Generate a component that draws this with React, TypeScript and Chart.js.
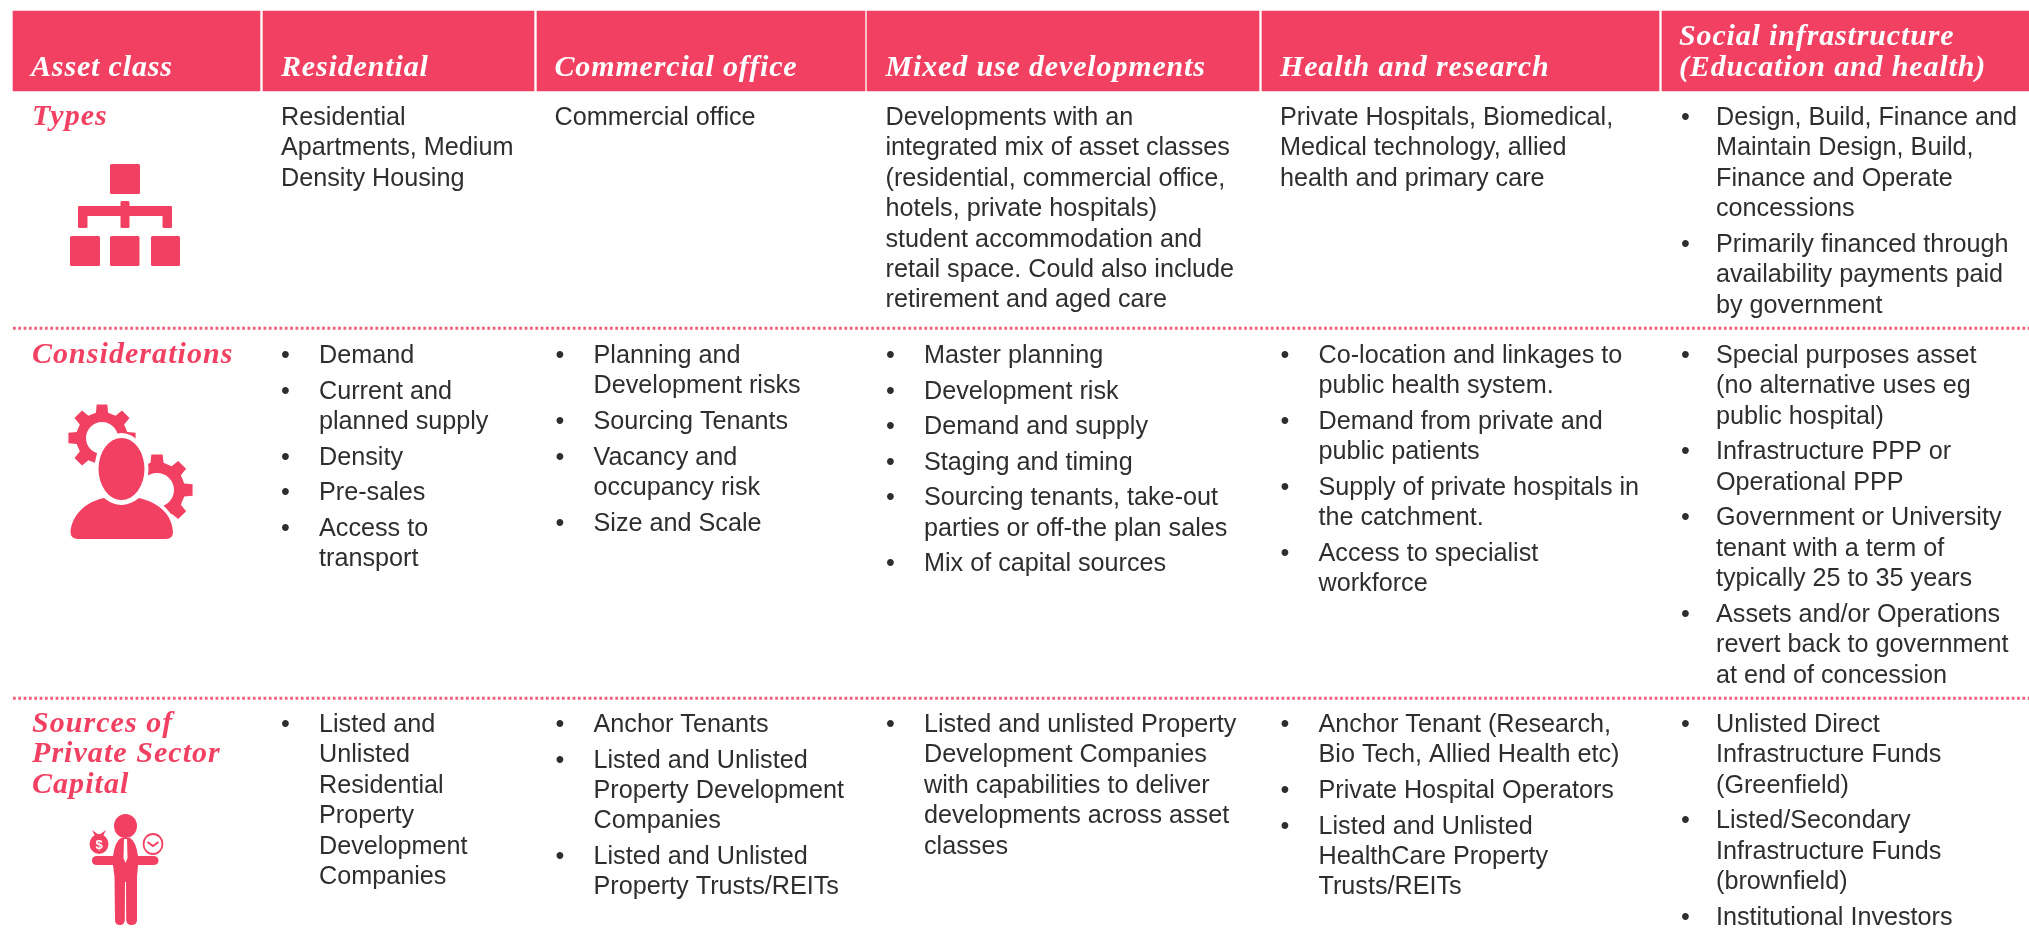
import React, { useEffect, useRef } from "react";
import { Chart, registerables } from "chart.js";

Chart.register(...registerables);

const headers: string[][] = [
  ["Asset class"],
  ["Residential"],
  ["Commercial office"],
  ["Mixed use developments"],
  ["Health and research"],
  ["Social infrastructure", "(Education and health)"],
];
const rowLabels: string[][] = [["Types"], ["Considerations"], ["Sources of", "Private Sector", "Capital"]];

const typesRow: string[][][] = [
  [["Residential", "Apartments, Medium", "Density Housing"]],
  [["Commercial office"]],
  [["Developments with an", "integrated mix of asset classes", "(residential, commercial office,", "hotels, private hospitals)", "student accommodation and", "retail space. Could also include", "retirement and aged care"]],
  [["Private Hospitals, Biomedical,", "Medical technology, allied", "health and primary care"]],
  [["Design, Build, Finance and", "Maintain Design, Build,", "Finance and Operate", "concessions"], ["Primarily financed through", "availability payments paid", "by government"]],
];
const considerationsRow: string[][][] = [
  [["Demand"], ["Current and", "planned supply"], ["Density"], ["Pre-sales"], ["Access to", "transport"]],
  [["Planning and", "Development risks"], ["Sourcing Tenants"], ["Vacancy and", "occupancy risk"], ["Size and Scale"]],
  [["Master planning"], ["Development risk"], ["Demand and supply"], ["Staging and timing"], ["Sourcing tenants, take-out", "parties or off-the plan sales"], ["Mix of capital sources"]],
  [["Co-location and linkages to", "public health system."], ["Demand from private and", "public patients"], ["Supply of private hospitals in", "the catchment."], ["Access to specialist", "workforce"]],
  [["Special purposes asset", "(no alternative uses eg", "public hospital)"], ["Infrastructure PPP or", "Operational PPP"], ["Government or University", "tenant with a term of", "typically 25 to 35 years"], ["Assets and/or Operations", "revert back to government", "at end of concession"]],
];
const sourcesRow: string[][][] = [
  [["Listed and", "Unlisted", "Residential", "Property", "Development", "Companies"]],
  [["Anchor Tenants"], ["Listed and Unlisted", "Property Development", "Companies"], ["Listed and Unlisted", "Property Trusts/REITs"]],
  [["Listed and unlisted Property", "Development Companies", "with capabilities to deliver", "developments across asset", "classes"]],
  [["Anchor Tenant (Research,", "Bio Tech, Allied Health etc)"], ["Private Hospital Operators"], ["Listed and Unlisted", "HealthCare Property", "Trusts/REITs"]],
  [["Unlisted Direct", "Infrastructure Funds", "(Greenfield)"], ["Listed/Secondary", "Infrastructure Funds", "(brownfield)"], ["Institutional Investors"]],
];

const PINK = "#f24062";
const INK = "#2e2e2e";
const columnEdges: [number, number][] = [[13, 260], [263, 534], [537, 865], [867, 1259], [1262, 1659], [1662, 2029]];
const plainX = [281, 554.5, 885.5, 1280, 1716];
const bulletX = [285.5, 560, 890.5, 1285, 1685.5];
const itemX = [319, 593.5, 924, 1318.5, 1716];
const rowTops = [125, 363, 732];
const separators = [328.3, 698.3];
const LINE = 30.4;
const GAP = 35.6;
const SERIF = "italic bold 30px 'Liberation Serif'";
const SANS = "25.2px 'Liberation Sans'";

function rr(c: CanvasRenderingContext2D, x0: number, y0: number, x1: number, y1: number) {
  c.beginPath();
  c.roundRect(x0, y0, x1 - x0, y1 - y0, 1.5);
  c.fill();
}

function gear(c: CanvasRenderingContext2D, cx: number, cy: number, ro: number, ri: number, hole: number) {
  const teeth = 8;
  c.beginPath();
  for (let i = 0; i < teeth; i++) {
    const a = (i / teeth) * Math.PI * 2 + Math.PI / 2;
    const s = (Math.PI * 2) / teeth;
    const p = (r: number, t: number) => [cx + r * Math.cos(t), cy + r * Math.sin(t)] as const;
    const pts = [p(ri, a - s * 0.3), p(ro, a - s * 0.2), p(ro, a + s * 0.2), p(ri, a + s * 0.3)];
    pts.forEach(([x, y], j) => (i === 0 && j === 0 ? c.moveTo(x, y) : c.lineTo(x, y)));
  }
  c.closePath();
  c.fillStyle = PINK;
  c.fill();
  c.beginPath();
  c.arc(cx, cy, hole, 0, Math.PI * 2);
  c.fillStyle = "#fff";
  c.fill();
}

function drawIcons(c: CanvasRenderingContext2D) {
  c.save();
  c.fillStyle = PINK;
  // hierarchy icon
  rr(c, 110, 164, 140, 194);
  rr(c, 78, 206, 172, 216);
  rr(c, 78, 206, 87.5, 228);
  rr(c, 162.5, 206, 172, 228);
  rr(c, 120.5, 201, 129.5, 228);
  rr(c, 70, 236, 100, 266);
  rr(c, 110, 236, 139.5, 266);
  rr(c, 151, 236, 180, 266);

  // person with gears
  gear(c, 102, 438, 34, 26, 16);
  gear(c, 157, 490, 36, 28, 17);
  const body = () => {
    c.beginPath();
    c.moveTo(70.5, 532);
    c.bezierCurveTo(72, 515, 85, 502, 104, 498);
    c.quadraticCurveTo(121, 512, 139, 498);
    c.bezierCurveTo(160, 503, 172, 515, 173, 532);
    c.quadraticCurveTo(173, 539, 166, 539);
    c.lineTo(78, 539);
    c.quadraticCurveTo(70.5, 539, 70.5, 532);
    c.closePath();
  };
  c.fillStyle = "#fff";
  c.beginPath();
  c.ellipse(121.5, 469, 27, 36, 0, 0, Math.PI * 2);
  c.fill();
  body();
  c.strokeStyle = "#fff";
  c.lineWidth = 7;
  c.stroke();
  c.fill();
  c.fillStyle = PINK;
  c.beginPath();
  c.ellipse(121.5, 469, 23, 31, 0, 0, Math.PI * 2);
  c.fill();
  body();
  c.fill();

  // businessman with money and clock
  c.fillStyle = PINK;
  c.beginPath();
  c.ellipse(125.5, 826, 11.5, 12, 0, 0, Math.PI * 2);
  c.fill();
  c.beginPath();
  c.moveTo(121, 838);
  c.lineTo(130, 838);
  c.quadraticCurveTo(136, 841, 138, 856);
  c.lineTo(153, 856);
  c.quadraticCurveTo(158.5, 856, 158.5, 860.5);
  c.quadraticCurveTo(158.5, 865, 153, 865);
  c.lineTo(138, 865);
  c.lineTo(137, 877);
  c.lineTo(137, 920);
  c.quadraticCurveTo(137, 925, 131.5, 925);
  c.quadraticCurveTo(126.5, 925, 126.2, 920);
  c.lineTo(126, 882);
  c.lineTo(125, 882);
  c.lineTo(124.8, 920);
  c.quadraticCurveTo(124.5, 925, 120, 925);
  c.quadraticCurveTo(115, 925, 115, 920);
  c.lineTo(114.5, 877);
  c.lineTo(113, 865);
  c.lineTo(97, 865);
  c.quadraticCurveTo(92, 865, 92, 860.5);
  c.quadraticCurveTo(92, 856, 97, 856);
  c.lineTo(113, 856);
  c.quadraticCurveTo(115, 841, 121, 838);
  c.closePath();
  c.fill();
  c.fillStyle = "#fff";
  c.beginPath();
  c.moveTo(124, 839);
  c.lineTo(127, 839);
  c.lineTo(127.5, 858);
  c.lineTo(125.5, 863);
  c.lineTo(123.5, 858);
  c.closePath();
  c.fill();
  c.fillStyle = PINK;
  c.beginPath();
  c.ellipse(99, 844, 9.5, 10, 0, 0, Math.PI * 2);
  c.fill();
  c.beginPath();
  c.moveTo(92, 830);
  c.lineTo(99, 835);
  c.lineTo(106, 830);
  c.lineTo(102, 838);
  c.lineTo(96, 838);
  c.closePath();
  c.fill();
  c.fillStyle = "#fff";
  c.font = "bold 13px 'Liberation Sans'";
  c.textAlign = "center";
  c.fillText("$", 99, 849);
  c.strokeStyle = PINK;
  c.lineWidth = 1.8;
  c.beginPath();
  c.ellipse(153, 844, 9.5, 10, 0, 0, Math.PI * 2);
  c.stroke();
  c.lineWidth = 2;
  c.beginPath();
  c.moveTo(147.5, 842);
  c.lineTo(153, 846);
  c.lineTo(158.5, 842);
  c.stroke();
  c.restore();
}

const tablePlugin = {
  id: "tableText",
  afterDatasetsDraw(chart: Chart) {
    const c = chart.ctx;
    const sx = (v: number) => chart.scales.x.getPixelForValue(v);
    const sy = (v: number) => chart.scales.y.getPixelForValue(v);
    c.save();
    c.textBaseline = "alphabetic";
    c.textAlign = "left";

    c.font = SERIF;
    c.fillStyle = "#fff";
    (c as any).letterSpacing = "0.85px";
    const headX = [31, 281, 554.5, 885.5, 1280, 1679];
    headers.forEach((h, i) => {
      h.forEach((t, j) => c.fillText(t, sx(headX[i]), sy(76 - (h.length - 1 - j) * 31)));
    });
    (c as any).letterSpacing = "1.05px";
    c.fillStyle = PINK;
    rowLabels.forEach((lab, r) => {
      lab.forEach((t, j) => c.fillText(t, sx(32), sy(rowTops[r] + j * LINE)));
    });
    (c as any).letterSpacing = "0px";

    const rows = [typesRow, considerationsRow, sourcesRow];
    c.font = SANS;
    c.fillStyle = INK;
    rows.forEach((row, r) => {
      row.forEach((items, col) => {
        const bulleted = !(r === 0 && col < 4);
        let y = rowTops[r];
        items.forEach((lines, k) => {
          if (k > 0) y += GAP - LINE;
          if (bulleted) {
            c.textAlign = "center";
            c.fillText("•", sx(bulletX[col]), sy(y));
            c.textAlign = "left";
          }
          lines.forEach((t) => {
            c.fillText(t, sx(bulleted ? itemX[col] : plainX[col]), sy(y));
            y += LINE;
          });
        });
      });
    });
    c.restore();
    drawIcons(c);
  },
};

export default function App() {
  const ref = useRef<HTMLCanvasElement>(null);
  useEffect(() => {
    document.body.style.margin = "0";
    const chart = new Chart(ref.current!, {
      data: {
        datasets: [
          {
            type: "bar",
            indexAxis: "y",
            data: columnEdges.map((e) => ({ x: e, y: 51 })),
            backgroundColor: PINK,
            barThickness: 80,
            grouped: false,
            order: 2,
          } as any,
          ...separators.map((y) => ({
            type: "scatter",
            showLine: true,
            data: [{ x: 13, y }, { x: 2029, y }],
            borderColor: "rgba(242,64,98,0.85)",
            borderWidth: 3,
            borderDash: [2.7, 2.63],
            borderCapStyle: "butt",
            pointRadius: 0,
            order: 1,
          })) as any,
        ],
      },
      options: {
        responsive: false,
        animation: false,
        events: [],
        layout: { padding: 0 },
        plugins: { legend: { display: false }, tooltip: { enabled: false }, title: { display: false } },
        scales: {
          x: { type: "linear", display: false, min: 0, max: 2029, offset: false },
          y: { type: "linear", display: false, min: 0, max: 940, reverse: true, offset: false },
        },
      },
      plugins: [tablePlugin],
    } as any);
    return () => chart.destroy();
  }, []);
  return <canvas ref={ref} width={2029} height={940} style={{ display: "block" }} />;
}
